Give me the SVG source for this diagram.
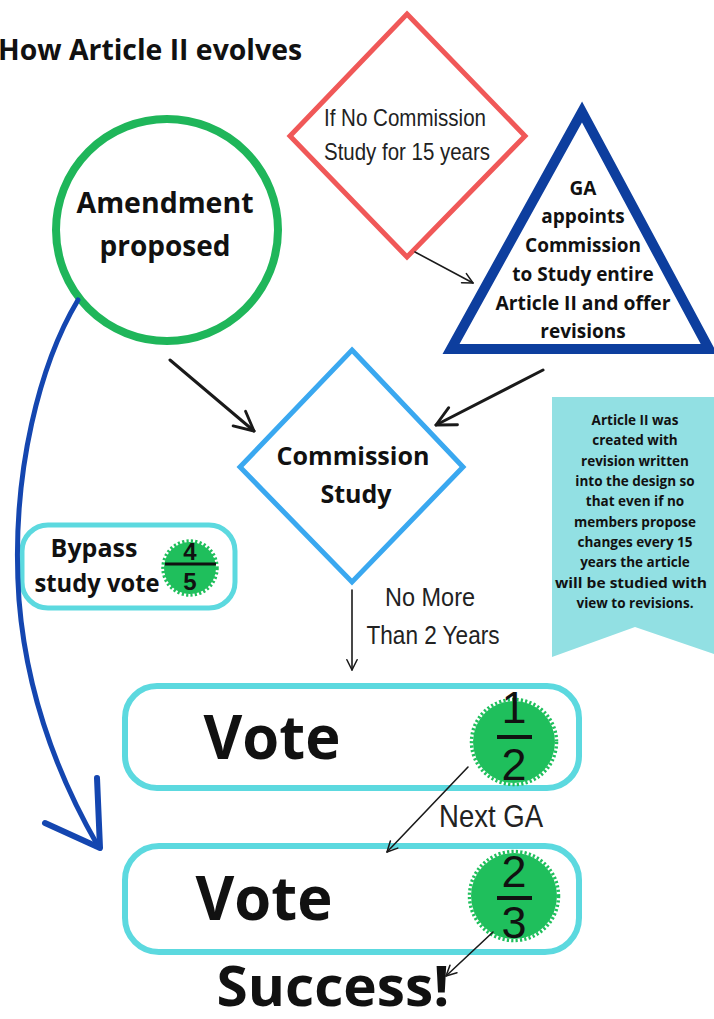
<svg xmlns="http://www.w3.org/2000/svg" width="714" height="1019" viewBox="0 0 714 1019">
<style>
.bold{font-family:"Open Sans","Liberation Sans",sans-serif;font-weight:700;fill:#111;text-anchor:middle}
.cond{font-family:"Liberation Sans","DejaVu Sans",sans-serif;font-weight:400;fill:#222;text-anchor:middle}
.frac{font-family:"Liberation Sans","DejaVu Sans",sans-serif;fill:#111;text-anchor:middle}
.conn{fill:none;stroke:#1a1a1a;stroke-linecap:round}
.vbox{fill:#fff;stroke:#5cd9df;stroke-width:6}
.badge{fill:#1fbf5c}
.badgeEdge{fill:none;stroke:#1fbf5c;stroke-width:3.5;stroke-dasharray:2.2 2.2}
</style>
<defs>
<marker id="open" viewBox="0 0 10 10" refX="9" refY="5" markerWidth="8" markerHeight="8" orient="auto" markerUnits="strokeWidth">
<path d="M1,1 L9,5 L1,9" fill="none" stroke="#1a1a1a" stroke-width="1.2" stroke-linecap="round" stroke-linejoin="round"/>
</marker>
</defs>
<rect width="714" height="1019" fill="#fff"/>

<text id="title" x="-2" y="60" class="bold" style="text-anchor:start" font-size="29" textLength="304" lengthAdjust="spacingAndGlyphs">How Article II evolves</text>

<g id="no-study-15">
<polygon points="407,14 525,136 407,257 290,136" fill="#fff" stroke="#f05858" stroke-width="5"/>
<text class="cond" x="405" y="126" font-size="24" textLength="162" lengthAdjust="spacingAndGlyphs">If No Commission</text>
<text class="cond" x="407" y="160" font-size="24" textLength="166" lengthAdjust="spacingAndGlyphs">Study for 15 years</text>
</g>

<g id="ga-appoints">
<polygon points="582,112 451,349 709,349" fill="#fff" stroke="#0d3e9e" stroke-width="10" stroke-linejoin="miter"/>
<g class="bold" font-size="19">
<text x="583" y="195">GA</text>
<text x="583" y="223">appoints</text>
<text x="583" y="252">Commission</text>
<text x="583" y="281">to Study entire</text>
<text x="583" y="310" textLength="175" lengthAdjust="spacingAndGlyphs">Article II and offer</text>
<text x="583" y="338">revisions</text>
</g>
</g>

<g id="amendment">
<circle cx="167" cy="230" r="111" fill="#fff" stroke="#1fb65a" stroke-width="8"/>
<text class="bold" x="165" y="213" font-size="28" textLength="177" lengthAdjust="spacingAndGlyphs">Amendment</text>
<text class="bold" x="165" y="256" font-size="28">proposed</text>
</g>

<g id="commission-study">
<polygon points="352,350 463,467 352,582 240,467" fill="#fff" stroke="#3aa8f0" stroke-width="5"/>
<text class="bold" x="353" y="465" font-size="25" textLength="153" lengthAdjust="spacingAndGlyphs">Commission</text>
<text class="bold" x="356" y="503" font-size="25">Study</text>
</g>

<g id="note">
<polygon points="552,397 714,397 714,654 635,627 552,657" fill="#92e0e3"/>
<g class="bold" font-size="13.5" fill="#222">
<text x="635" y="425">Article II was</text>
<text x="635" y="445">created with</text>
<text x="635" y="466">revision written</text>
<text x="635" y="486">into the design so</text>
<text x="635" y="506">that even if no</text>
<text x="635" y="527">members propose</text>
<text x="635" y="547">changes every 15</text>
<text x="635" y="567">years the article</text>
<text x="631" y="588" textLength="152" lengthAdjust="spacingAndGlyphs">will be studied with</text>
<text x="635" y="608">view to revisions.</text>
</g>
</g>

<g id="bypass">
<rect x="22" y="525" width="213" height="83" rx="26" fill="#fff" stroke="#5cd9df" stroke-width="5"/>
<text class="bold" x="94" y="557" font-size="25">Bypass</text>
<text class="bold" x="97" y="592" font-size="25" textLength="125" lengthAdjust="spacingAndGlyphs">study vote</text>
<circle class="badge" cx="190" cy="568" r="26"/>
<circle class="badgeEdge" cx="190" cy="568" r="27"/>
<text class="frac" x="190" y="560" font-size="24" font-weight="700">4</text>
<line x1="165" y1="564" x2="216" y2="564" stroke="#111" stroke-width="3"/>
<text class="frac" x="190" y="590" font-size="24" font-weight="700">5</text>
</g>

<g id="label-no-more">
<text class="cond" x="430" y="606" font-size="26" textLength="90" lengthAdjust="spacingAndGlyphs">No More</text>
<text class="cond" x="433" y="644" font-size="26" textLength="133" lengthAdjust="spacingAndGlyphs">Than 2 Years</text>
</g>

<g id="vote-half">
<rect class="vbox" x="125" y="686" width="454" height="102" rx="32"/>
<text class="bold" x="272" y="759" font-size="60" textLength="137" lengthAdjust="spacingAndGlyphs">Vote</text>
<circle class="badge" cx="514" cy="742" r="41"/>
<circle class="badgeEdge" cx="514" cy="742" r="42.5"/>
<text class="frac" x="514" y="723" font-size="45">1</text>
<line x1="497" y1="737" x2="532" y2="737" stroke="#111" stroke-width="4"/>
<text class="frac" x="514" y="780" font-size="45">2</text>
</g>

<g id="label-next-ga">
<text class="cond" x="491" y="827" font-size="32" textLength="104" lengthAdjust="spacingAndGlyphs">Next GA</text>
</g>

<g id="vote-two-thirds">
<rect class="vbox" x="125" y="846" width="454" height="106" rx="34"/>
<text class="bold" x="264" y="920" font-size="60" textLength="137" lengthAdjust="spacingAndGlyphs">Vote</text>
<circle class="badge" cx="514" cy="896" r="43"/>
<circle class="badgeEdge" cx="514" cy="896" r="44.5"/>
<text class="frac" x="514" y="887" font-size="45">2</text>
<line x1="497" y1="898" x2="532" y2="898" stroke="#111" stroke-width="4"/>
<text class="frac" x="514" y="938" font-size="45">3</text>
</g>

<g id="success">
<text class="bold" x="333" y="1006" font-size="55" textLength="233" lengthAdjust="spacingAndGlyphs">Success!</text>
</g>

<g id="connectors">
<line class="conn" x1="415" y1="252" x2="473" y2="283" stroke-width="1.6" marker-end="url(#open)"/>
<line class="conn" x1="170" y1="360" x2="254" y2="431" stroke-width="3" marker-end="url(#open)"/>
<line class="conn" x1="543" y1="370" x2="436" y2="425" stroke-width="3" marker-end="url(#open)"/>
<line class="conn" x1="352" y1="590" x2="352" y2="670" stroke-width="1.6" marker-end="url(#open)"/>
<line class="conn" x1="468" y1="767" x2="387" y2="852" stroke-width="1.6" marker-end="url(#open)"/>
<line class="conn" x1="493" y1="932" x2="446" y2="976" stroke-width="1.6" marker-end="url(#open)"/>
<path d="M78,300 C42,360 10,470 19,600 C27,700 60,780 98,846" fill="none" stroke="#1446b0" stroke-width="5" stroke-linecap="round"/>
<path d="M45,823 L100,848 L97,778" fill="none" stroke="#1446b0" stroke-width="6" stroke-linecap="round" stroke-linejoin="round"/>
</g>
</svg>
